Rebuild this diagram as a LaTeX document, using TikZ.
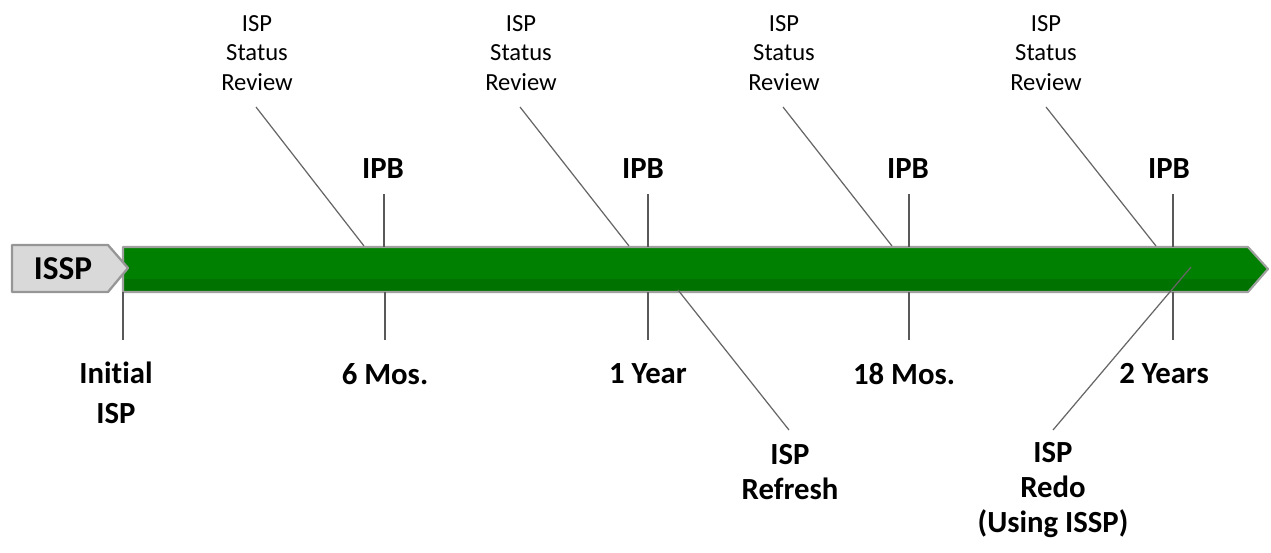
\documentclass[tikz,border=0pt]{standalone}
\usepackage{fontspec}
\setmainfont{Carlito}[Ligatures=NoCommon]
\definecolor{bargreen}{RGB}{0,128,0}
\definecolor{bardark}{RGB}{0,114,0}
\definecolor{barrim}{RGB}{160,160,160}
\definecolor{isspfill}{RGB}{217,217,217}
\definecolor{isspedge}{RGB}{150,150,150}
\begin{document}
\begin{tikzpicture}[x=0.02cm,y=-0.02cm,
  big/.style={font=\fontsize{17.5}{20}\selectfont\bfseries, align=center, inner sep=0pt},
  small/.style={font=\fontsize{14}{17}\selectfont, align=center, inner sep=0pt},
  tick/.style={draw=black!65, line width=0.8pt},
  lead/.style={draw=black!60, line width=0.7pt}]
\useasboundingbox (0,0) rectangle (1271,552);
% green timeline bar
\fill[bargreen] (123,247) -- (1248,247) -- (1268,269) -- (1248,292) -- (123,292) -- cycle;
\fill[bardark] (123,279) -- (1260,279) -- (1248,292) -- (123,292) -- cycle;
\draw[barrim, line width=1.2pt, line join=round] (123,247) -- (1248,247) -- (1268,269) -- (1248,292) -- (123,292) -- cycle;
% ISSP box
\draw[fill=isspfill, draw=isspedge, line width=1.3pt, line join=round] (12,245) -- (108,245) -- (128,268) -- (108,292) -- (12,292) -- cycle;
\node[big, font=\fontsize{19}{20}\selectfont\bfseries] (issp) at (63,269) {ISSP};

% top labels
\node[small] (sr1) at (257,53) {ISP\\Status\\Review};
\node[small] (sr2) at (521,53) {ISP\\Status\\Review};
\node[small] (sr3) at (784,53) {ISP\\Status\\Review};
\node[small] (sr4) at (1046,53) {ISP\\Status\\Review};
\node[big] (ipb1) at (383,169) {IPB};
\node[big] (ipb2) at (643,169) {IPB};
\node[big] (ipb3) at (908,169) {IPB};
\node[big] (ipb4) at (1169,169) {IPB};

% bottom labels
\node[big, font=\fontsize{17.5}{22.5}\selectfont\bfseries] (init) at (116,393) {Initial\\ISP};
\node[big] (m6) at (385,374) {6 Mos.};
\node[big] (y1) at (648,374) {1 Year};
\node[big] (m18) at (904,374) {18 Mos.};
\node[big] (y2) at (1164,374) {2 Years};
\node[big] (refresh) at (790,472) {ISP\\Refresh};
\node[big] (redo) at (1053,490) {ISP\\Redo\\(Using ISSP)};

% coordinates for connector ends
\coordinate (t0b) at (123,292);  \coordinate (t0e) at (123,340);
\coordinate (t1a) at (384,194);  \coordinate (t1b) at (384,247);
\coordinate (t1c) at (385,292);  \coordinate (t1d) at (385,340);
\coordinate (t2a) at (648,194);  \coordinate (t2b) at (648,247);
\coordinate (t2c) at (648,292);  \coordinate (t2d) at (648,340);
\coordinate (t3a) at (909,194);  \coordinate (t3b) at (909,247);
\coordinate (t3c) at (909,292);  \coordinate (t3d) at (909,340);
\coordinate (t4a) at (1173,194); \coordinate (t4b) at (1173,247);
\coordinate (t4c) at (1173,292); \coordinate (t4d) at (1173,340);
\coordinate (s1a) at (256,107);  \coordinate (s1b) at (364,246);
\coordinate (s2a) at (520,107);  \coordinate (s2b) at (629,246);
\coordinate (s3a) at (783,107);  \coordinate (s3b) at (892,246);
\coordinate (s4a) at (1046,107); \coordinate (s4b) at (1156,246);
\coordinate (rfa) at (678,290);  \coordinate (rfb) at (789,430);
\coordinate (rda) at (1191,267); \coordinate (rdb) at (1053,430);

% ticks
\draw[tick] (t0b) -- (t0e);
\draw[tick] (t1a) -- (t1b); \draw[tick] (t1c) -- (t1d);
\draw[tick] (t2a) -- (t2b); \draw[tick] (t2c) -- (t2d);
\draw[tick] (t3a) -- (t3b); \draw[tick] (t3c) -- (t3d);
\draw[tick] (t4a) -- (t4b); \draw[tick] (t4c) -- (t4d);
% leaders
\draw[lead] (s1a) -- (s1b);
\draw[lead] (s2a) -- (s2b);
\draw[lead] (s3a) -- (s3b);
\draw[lead] (s4a) -- (s4b);
\draw[lead] (rfa) -- (rfb);
\draw[lead] (rda) -- (rdb);
\end{tikzpicture}
\end{document}
